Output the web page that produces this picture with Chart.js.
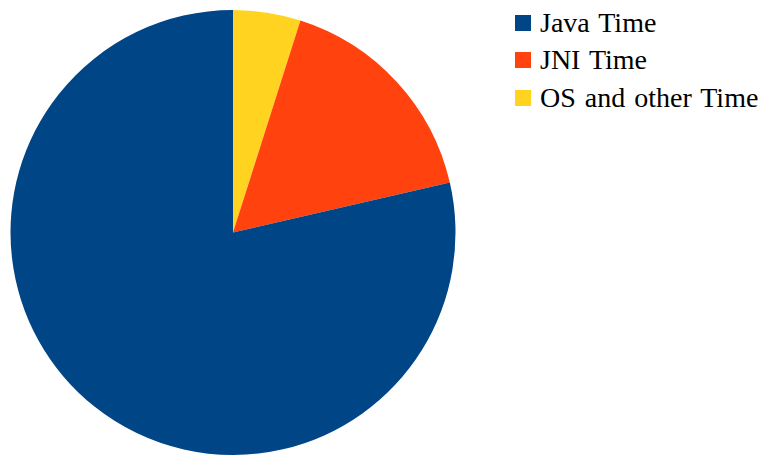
<!DOCTYPE html>
<html>
<head>
<meta charset="utf-8">
<script src="https://cdn.jsdelivr.net/npm/chart.js@4"></script>
<style>
  body { margin: 0; background: #fff; }
  #wrap { position: relative; width: 767px; height: 455px; }
  #box { position: absolute; left: 0; top: 0; width: 466px; height: 455px; }
  #legend { position: absolute; left: 515px; top: 4px; color: #000; }
  #legend div { display: flex; align-items: center; height: 37.5px; white-space: nowrap; }
  #legend span.sw { display: inline-block; width: 16px; height: 16px; margin-right: 9px; }
</style>
</head>
<body>
<div id="wrap">
  <div id="box"><canvas id="MyChart1"></canvas></div>
  <div id="legend"></div>
</div>
<script>
// legend order as shown
var labels = ['Java Time', 'JNI Time', 'OS and other Time'];
var values = [78.6, 16.5, 4.9];
var colors = ['#004586', '#ff420e', '#ffd320'];

// pie is drawn counter-clockwise from the top, so feed it reversed
var chart = document.getElementById('MyChart1').getContext('2d');

var data = {
  labels: labels.slice().reverse(),
  datasets: [{
    data: values.slice().reverse(),
    backgroundColor: colors.slice().reverse(),
    borderWidth: 0
  }]
};

var options = {
  responsive: true,
  maintainAspectRatio: false,
  animation: false,
  layout: { padding: { top: 10, left: 10, right: 10, bottom: 0 } },
  plugins: {
    legend: { display: false },
    tooltip: { enabled: false }
  }
};

new Chart(chart, { type: 'pie', data: data, options: options });

var lg = document.getElementById('legend');
labels.forEach(function (l, i) {
  var row = document.createElement('div');
  row.style.fontFamily = "'Liberation Serif', serif";
  row.style.fontSize = '28px';
  row.style.wordSpacing = '2px';
  var sw = document.createElement('span');
  sw.className = 'sw';
  sw.style.background = colors[i];
  row.appendChild(sw);
  row.appendChild(document.createTextNode(l));
  lg.appendChild(row);
});
</script>
</body>
</html>
